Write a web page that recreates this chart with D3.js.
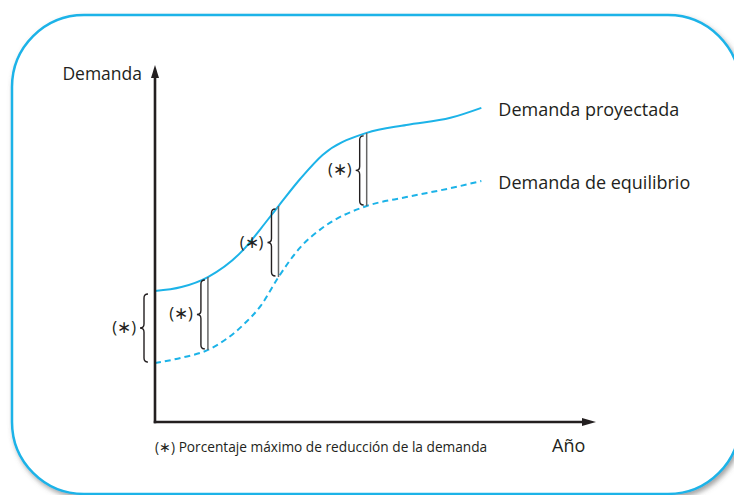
<!DOCTYPE html>
<html>
<head>
<meta charset="utf-8">
<script src="https://cdn.jsdelivr.net/npm/d3@7"></script>
<style>
  body { margin: 0; background: #fff; }
  text { font-family: "Open Sans", sans-serif; fill: #231f20; }
</style>
</head>
<body>
<div class="myBox"></div>
<script>
   var width = 734;
   var height = 495;

   // data (abstract units)
   var years = [0, 6, 12, 20, 24, 28, 33, 38, 48, 57, 67, 74];
   var projected = [36.7, 37.8, 40.6, 48.2, 54.2, 60.5, 68.2, 74.8, 81.0, 83.2, 85.2, 88.0];
   var equilibrium = [16.5, 18.0, 20.2, 27.2, 32.6, 40.6, 49.0, 54.4, 60.5, 63.0, 65.5, 67.5];
   var bracketYears = [0, 12, 28, 48];
   var seriesNames = ["Demanda proyectada", "Demanda de equilibrio"];
   var yLabel = "Demanda";
   var xLabel = "Año";
   var footnote = "(∗) Porcentaje máximo de reducción de la demanda";

   var blue = "#1cb3e8";
   var ink = "#231f20";

   var svg = d3.select(".myBox")
   .append("svg")
   .attr("width", width)
   .attr("height", height);

   var defs = svg.append("defs");
   var f = defs.append("filter").attr("id", "shadow")
     .attr("x", "-5%").attr("y", "-5%").attr("width", "115%").attr("height", "115%");
   f.append("feDropShadow").attr("dx", 2).attr("dy", 3).attr("stdDeviation", 2.5)
     .attr("flood-color", "#555").attr("flood-opacity", 0.55);

   // rounded frame
   svg.append("rect")
     .attr("x", 12).attr("y", 15)
     .attr("width", 728).attr("height", 479)
     .attr("rx", 72).attr("ry", 72)
     .attr("fill", "#fff")
     .attr("stroke", blue)
     .attr("stroke-width", 2.5)
     .attr("filter", "url(#shadow)");

   var x = d3.scaleLinear().domain([0, 100]).range([155, 596]);
   var y = d3.scaleLinear().domain([0, 100]).range([422, 65]);

   var projPts = years.map(function(d, i) { return [d, projected[i]]; });
   var eqPts = years.map(function(d, i) { return [d, equilibrium[i]]; });

   var line = d3.line()
     .x(function(d) { return x(d[0]); })
     .y(function(d) { return y(d[1]); })
     .curve(d3.curveMonotoneX);

   svg.append("path")
     .attr("d", line(projPts))
     .attr("fill", "none")
     .attr("stroke", blue)
     .attr("stroke-width", 2);

   svg.append("path")
     .attr("d", line(eqPts))
     .attr("fill", "none")
     .attr("stroke", blue)
     .attr("stroke-width", 2)
     .attr("stroke-dasharray", "6,4");

   // series labels at line ends
   var ends = [projPts[projPts.length - 1], eqPts[eqPts.length - 1]];
   svg.selectAll(".serieslabel")
     .data(seriesNames)
     .enter().append("text")
     .attr("class", "serieslabel")
     .attr("x", function(d, i) { return x(ends[i][0]) + 17; })
     .attr("y", function(d, i) { return y(ends[i][1]) + 8; })
     .style("font-size", "18px")
     .text(function(d) { return d; });

   // brackets
   function brace(xr, y0, y1, w) {
     var ym = (y0 + y1) / 2, h = w / 2;
     return "M" + xr + "," + y0 +
       "Q" + (xr - h) + "," + y0 + " " + (xr - h) + "," + (y0 + h) +
       "L" + (xr - h) + "," + (ym - h) +
       "Q" + (xr - h) + "," + ym + " " + (xr - w) + "," + ym +
       "Q" + (xr - h) + "," + ym + " " + (xr - h) + "," + (ym + h) +
       "L" + (xr - h) + "," + (y1 - h) +
       "Q" + (xr - h) + "," + y1 + " " + xr + "," + y1;
   }

   bracketYears.forEach(function(yr, k) {
     var i = years.indexOf(yr);
     var px = x(yr);
     var top = y(projected[i]), bot = y(equilibrium[i]);
     var gap = k === 0 ? 7 : 3;
     if (k > 0) {
       svg.append("line")
         .attr("x1", px).attr("x2", px)
         .attr("y1", top).attr("y2", bot)
         .attr("stroke", "#666").attr("stroke-width", 1.5);
     }
     svg.append("path")
       .attr("d", brace(px - gap, top + 3, bot - 1, 8))
       .attr("fill", "none")
       .attr("stroke", ink)
       .attr("stroke-width", 1.4);
     svg.append("text")
       .attr("x", px - gap - 12)
       .attr("y", (top + bot) / 2 + 6)
       .attr("text-anchor", "end")
       .style("font-size", "16.5px")
       .text("(∗)");
   });

   // axes
   svg.append("line")
     .attr("x1", x(0)).attr("x2", x(0))
     .attr("y1", y(0) + 1.25).attr("y2", y(100) + 10)
     .attr("stroke", ink).attr("stroke-width", 2.6);
   svg.append("line")
     .attr("x1", x(0) - 1.25).attr("x2", x(100) - 10)
     .attr("y1", y(0)).attr("y2", y(0))
     .attr("stroke", ink).attr("stroke-width", 2.6);
   svg.append("path")
     .attr("d", "M" + x(0) + "," + y(100) + "L" + (x(0) + 4) + "," + (y(100) + 13) + "L" + (x(0) - 4) + "," + (y(100) + 13) + "Z")
     .attr("fill", ink);
   svg.append("path")
     .attr("d", "M" + x(100) + "," + y(0) + "L" + (x(100) - 14) + "," + (y(0) - 4) + "L" + (x(100) - 14) + "," + (y(0) + 4) + "Z")
     .attr("fill", ink);

   svg.append("text")
     .attr("x", x(0) - 13).attr("y", y(100) + 15)
     .attr("text-anchor", "end")
     .style("font-size", "17.5px")
     .text(yLabel);

   svg.append("text")
     .attr("x", 552).attr("y", 452)
     .style("font-size", "18px")
     .text(xLabel);

   svg.append("text")
     .attr("x", x(0)).attr("y", 452)
     .style("font-size", "13.7px")
     .text(footnote);
</script>
</body>
</html>
